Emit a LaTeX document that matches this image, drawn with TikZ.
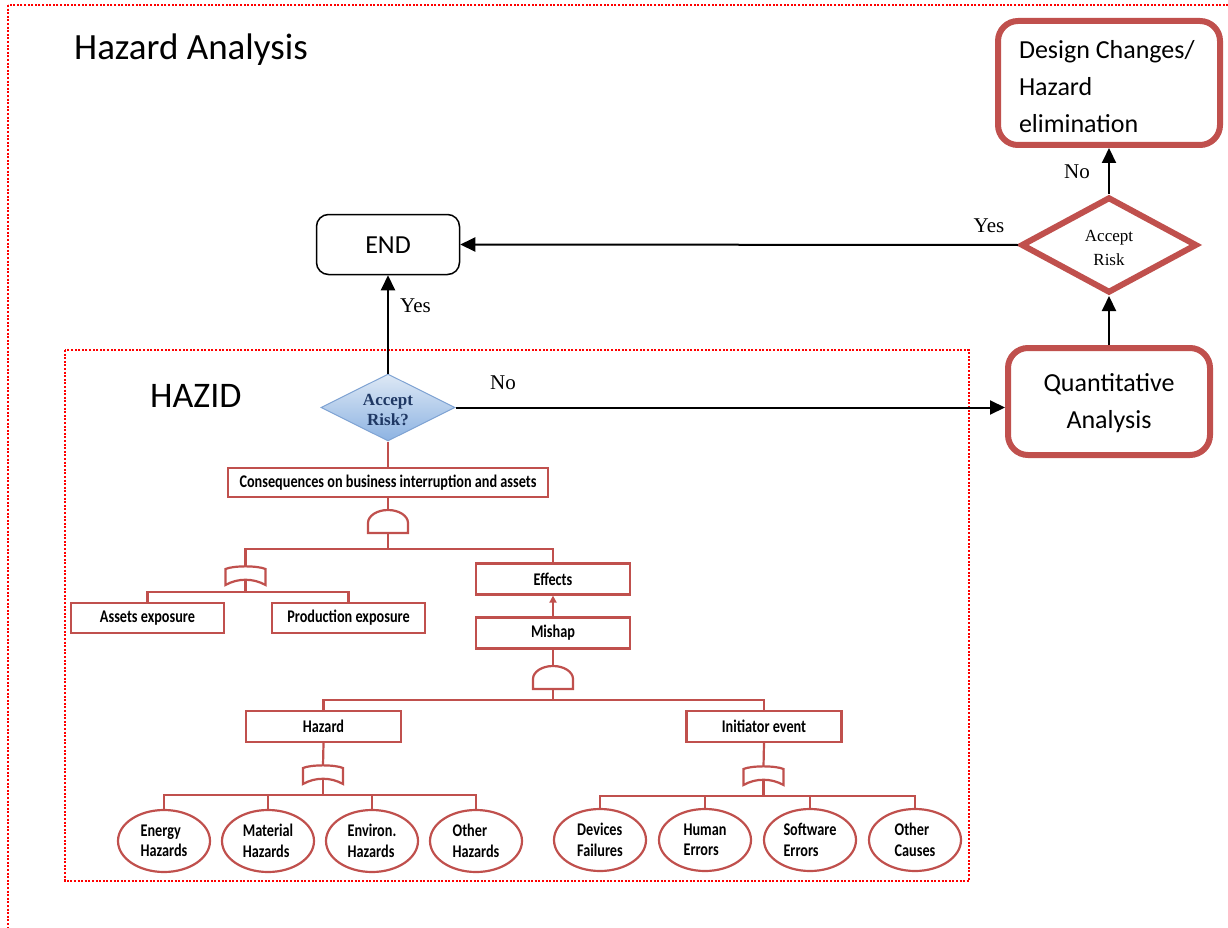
\documentclass[tikz,border=0pt]{standalone}
\usepackage{fontspec}
\usepackage{graphicx}
\setmainfont{Carlito}
\newfontfamily\tnr{Liberation Serif}
\newfontfamily\ftfont{Carlito}[FakeStretch=0.8]
\usetikzlibrary{arrows.meta,shapes.geometric}
\definecolor{ftred}{HTML}{C0504D}
\definecolor{dotred}{HTML}{FF0000}
\definecolor{blueA}{HTML}{DDE8F5}
\definecolor{blueB}{HTML}{8DB3E2}
\definecolor{blueL}{HTML}{7FA3D3}
\definecolor{navy}{HTML}{1F3864}
\newcommand\lowerby[2]{\raisebox{-#1}[\height][\depth]{#2}}
\tikzset{
  ftline/.style={draw=ftred, line width=2.2pt},
  ftbox/.style={ftline, rectangle, inner sep=0pt, fill=white,
    font=\ftfont\bfseries\fontsize{17.8}{20}\selectfont},
  ftell/.style={ftline, ellipse, inner sep=0pt, fill=white, align=left,
    minimum width=92pt, minimum height=62pt,
    font=\ftfont\bfseries\fontsize{17.8}{20.5}\selectfont},
  bigred/.style={draw=ftred, line width=6pt, rounded corners=20pt, fill=white,
    font=\fontsize{26}{37}\selectfont},
  flow/.style={draw=black, line width=2pt, -{Triangle[length=15pt,width=14pt]}},
  lbl/.style={font=\tnr\fontsize{21}{24}\selectfont, inner sep=0pt},
  dotbox/.style={draw=dotred, line width=2.4pt, dash pattern=on 2pt off 1.6pt},
  andgate/.pic={
    \draw[ftline, fill=white] (-20,0) -- (-20,-10)
      .. controls (-20,-17.2) and (-11,-23) .. (0,-23)
      .. controls (11,-23) and (20,-17.2) .. (20,-10) -- (20,0) -- cycle;
    \coordinate (-top) at (0,-23);
    \coordinate (-bot) at (0,0);
  },
  orgate/.pic={
    \draw[ftline, fill=white] (-20,0) -- (-20,-16)
      .. controls (-12,-19.5) and (12,-19.5) .. (20,-16) -- (20,0)
      .. controls (8,-7) and (-8,-7) .. (-20,0) -- cycle;
    \coordinate (-top) at (0,-18.5);
    \coordinate (-bot) at (0,-5.2);
  }
}
\begin{document}
\begin{tikzpicture}[x=1pt,y=-1pt]
\useasboundingbox (0,0) rectangle (1228,928);
\fill[white] (0,0) rectangle (1228,928);

% dotted frames
\draw[dotbox] (8,5) rectangle (1250,950);
\draw[dotbox] (65,350) rectangle (969,881);

% titles
\node[anchor=base west, inner sep=0pt, font=\fontsize{37}{44}\selectfont] (title) at (74,60) {Hazard Analysis};
\node[anchor=base west, inner sep=0pt, font=\fontsize{36}{43}\selectfont] (hazid) at (150,407) {HAZID};

% flow nodes
\node[draw=black, line width=1.5pt, rounded corners=12pt, minimum width=143pt, minimum height=60pt,
      inner sep=0pt, font=\fontsize{26}{30}\selectfont] (end) at (388,244.5) {\lowerby{1pt}{END}};
\node[bigred, minimum width=222pt, minimum height=124pt, inner sep=0pt] (dc) at (1109,83)
  {\lowerby{4pt}{\parbox{180pt}{\raggedright Design Changes/\\Hazard\\elimination}}};
\node[diamond, draw=ftred, line width=6pt, aspect=1.8, minimum width=176pt, minimum height=96pt, inner sep=0pt,
      font=\tnr\fontsize{17}{24}\selectfont] (rd) at (1109,245) {\lowerby{3pt}{\parbox{60pt}{\centering Accept\\Risk}}};
\node[bigred, minimum width=202pt, minimum height=107pt, inner sep=0pt] (qa) at (1109,401.5)
  {\lowerby{2pt}{\parbox{180pt}{\centering Quantitative\\Analysis}}};
\node[diamond, draw=blueL, line width=1pt, top color=blueA, bottom color=blueB, aspect=2,
      minimum width=134pt, minimum height=67pt, inner sep=0pt, text=navy,
      font=\tnr\bfseries\fontsize{17}{20}\selectfont] (bd) at (388,407.5) {\lowerby{3pt}{\parbox{60pt}{\centering Accept\\Risk?}}};

% flow arrows
\draw[flow] (bd.north) -- (end.south);
\draw[flow] (rd.west) -- (end.east);
\draw[flow] (bd.east) -- (bd.east -| qa.west);
\draw[flow] (qa.north) -- (rd.south);
\draw[flow] (rd.north) -- (rd.north |- dc.south);
\node[lbl] (yes1) at (415.5,306) {Yes};
\node[lbl] (no1) at (503,383) {No};
\node[lbl] (yes2) at (989,226) {Yes};
\node[lbl] (no2) at (1077,172) {No};

% fault tree boxes
\node[ftbox, minimum width=320pt, minimum height=29pt] (cons) at (388,482.5)
  {Consequences on business interruption and assets};
\node[ftbox, minimum width=153pt, minimum height=30pt] (assets) at (147.5,618) {Assets exposure};
\node[ftbox, minimum width=153pt, minimum height=30pt] (prod) at (348.5,618) {Production exposure};
\node[ftbox, minimum width=154pt, minimum height=31pt] (effects) at (553,579) {Effects};
\node[ftbox, minimum width=154pt, minimum height=31pt] (mishap) at (553,633) {Mishap};
\node[ftbox, minimum width=155pt, minimum height=31pt] (hazard) at (323.5,726.5) {Hazard};
\node[ftbox, minimum width=155pt, minimum height=31pt] (init) at (764,726.5) {Initiator event};

\node[ftell] (e1) at (164,841) {Energy\\Hazards};
\node[ftell] (e2) at (268,841) {Material\\Hazards};
\node[ftell] (e3) at (372,841) {Environ.\\Hazards};
\node[ftell] (e4) at (476,841) {Other\\Hazards};
\node[ftell] (e5) at (600,840) {Devices\\Failures};
\node[ftell] (e6) at (705,840) {Human\\Errors};
\node[ftell] (e7) at (810,840) {Software\\Errors};
\node[ftell] (e8) at (915,840) {Other\\Causes};

% gates
\pic (g1) at (388,533) {andgate};
\pic (g2) at (245.5,585) {orgate};
\pic (g3) at (553,689) {andgate};
\pic (g4) at (323,784) {orgate};
\pic (g5) at (763.5,785) {orgate};

\coordinate (b1) at (388,549);
\coordinate (b2) at (245.5,592);
\coordinate (b3) at (553,700);
\coordinate (b4) at (323,795);
\coordinate (b5) at (763.5,796);

% fault tree connectors
\draw[ftline] (bd.south) -- (cons.north);
\draw[ftline] (cons.south) -- (g1-top);
\draw[ftline] (g1-bot) -- (b1);
\draw[ftline] (b1) -| (g2-top);
\draw[ftline] (b1) -| (effects.north);
\draw[ftline] (g2-bot) -- (b2);
\draw[ftline] (b2) -| (assets.north);
\draw[ftline] (b2) -| (prod.north);
\draw[draw=ftred, line width=2pt, -{Triangle[length=7pt,width=7pt]}] (mishap.north) -- (effects.south);
\draw[ftline] (mishap.south) -- (g3-top);
\draw[ftline] (g3-bot) -- (b3);
\draw[ftline] (b3) -| (hazard.north);
\draw[ftline] (b3) -| (init.north);
\draw[ftline] (hazard.south) -- (g4-top);
\draw[ftline] (g4-bot) -- (b4);
\draw[ftline] (b4) -| (e1.north);
\draw[ftline] (b4) -| (e2.north);
\draw[ftline] (b4) -| (e3.north);
\draw[ftline] (b4) -| (e4.north);
\draw[ftline] (init.south) -- (g5-top);
\draw[ftline] (g5-bot) -- (b5);
\draw[ftline] (b5) -| (e5.north);
\draw[ftline] (b5) -| (e6.north);
\draw[ftline] (b5) -| (e7.north);
\draw[ftline] (b5) -| (e8.north);
\end{tikzpicture}
\end{document}
